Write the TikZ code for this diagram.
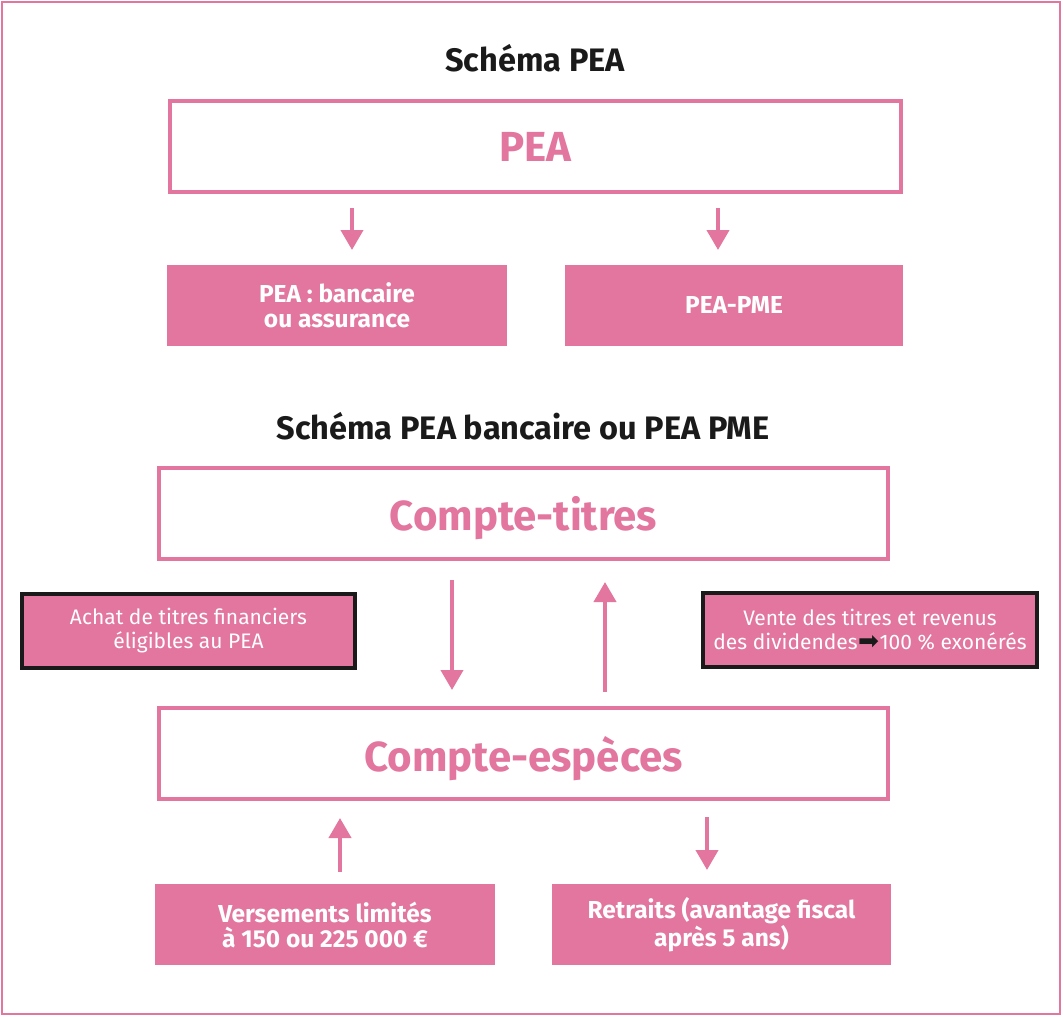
\documentclass[tikz,border=0pt]{standalone}
\usepackage{fontspec}
\setmainfont{Fira Sans}
\newfontfamily\symbfont{DejaVu Sans}
\usetikzlibrary{arrows.meta}
\definecolor{peapink}{RGB}{226,118,159}
\definecolor{inkblack}{RGB}{26,26,26}

\begin{document}
\begin{tikzpicture}[x=1pt, y=-1pt,
	frame/.style={draw=peapink, line width=4pt, fill=white, minimum width=731pt, minimum height=91pt, inner sep=0pt, text depth=0pt, text=peapink, font=\fontsize{42}{42}\selectfont\bfseries},
	tile/.style={fill=peapink, minimum width=340pt, minimum height=81pt, inner sep=0pt, text=white, align=center, font=\fontsize{24.5}{25}\selectfont\bfseries},
	note/.style={draw=inkblack, line width=4pt, fill=peapink, minimum width=333pt, minimum height=74pt, inner sep=0pt, text=white, align=center, font=\fontsize{21}{24}\selectfont},
	heading/.style={text=inkblack, font=\fontsize{32.5}{33}\selectfont\bfseries},
	flow/.style={draw=peapink, line width=4pt, -{Triangle[width=22pt,length=20pt]}}]
	\useasboundingbox (0,0) rectangle (1063,1017);
	% Outer border:
	\draw[peapink, line width=2pt] (2,2) rectangle (1060,1014);
	% Upper scheme:
	\node[heading] (title1) at (535,58){Schéma PEA};
	\node[frame, minimum width=731pt] (pea) at (535.5,146.5){PEA};
	\node[tile] (peabank) at (337,305){PEA : bancaire\\ou assurance};
	\node[tile, minimum width=338pt] (peapme) at (734,305){PEA-PME};
	\coordinate (a1s) at (352,208);
	\coordinate (a1e) at (352,250);
	\coordinate (a2s) at (718,208);
	\coordinate (a2e) at (718,250);
	\draw[flow] (a1s) -- (a1e);
	\draw[flow] (a2s) -- (a2e);
	% Lower scheme:
	\node[heading] (title2) at (523,426){Schéma PEA bancaire ou PEA PME};
	\node[frame, minimum width=729pt] (titres) at (523.5,513.5){Compte-titres};
	\node[frame, minimum width=729pt] (especes) at (523.5,753.5){Compte-espèces};
	\node[note] (achat) at (188.5,631){Achat de titres financiers\\éligibles au PEA};
	\node[note, minimum width=334pt] (vente) at (870,630){Vente des titres et revenus\\des dividendes{\symbfont\fontsize{25}{24}\selectfont\color{inkblack}\kern0.5pt➡\kern0.5pt}100 \% exonérés};
	\coordinate (b1s) at (452,580);
	\coordinate (b1e) at (452,690);
	\coordinate (b2s) at (605,692);
	\coordinate (b2e) at (605,582);
	\draw[flow] (b1s) -- (b1e);
	\draw[flow] (b2s) -- (b2e);
	\node[tile] (versements) at (325,924.5){Versements limités\\à 150 ou 225 000 €};
	\node[tile, minimum width=339pt] (retraits) at (721.5,924.5){Retraits (avantage fiscal\\après 5 ans)};
	\coordinate (c1s) at (340,872);
	\coordinate (c1e) at (340,818);
	\coordinate (c2s) at (707,817);
	\coordinate (c2e) at (707,870);
	\draw[flow] (c1s) -- (c1e);
	\draw[flow] (c2s) -- (c2e);
\end{tikzpicture}
\end{document}
